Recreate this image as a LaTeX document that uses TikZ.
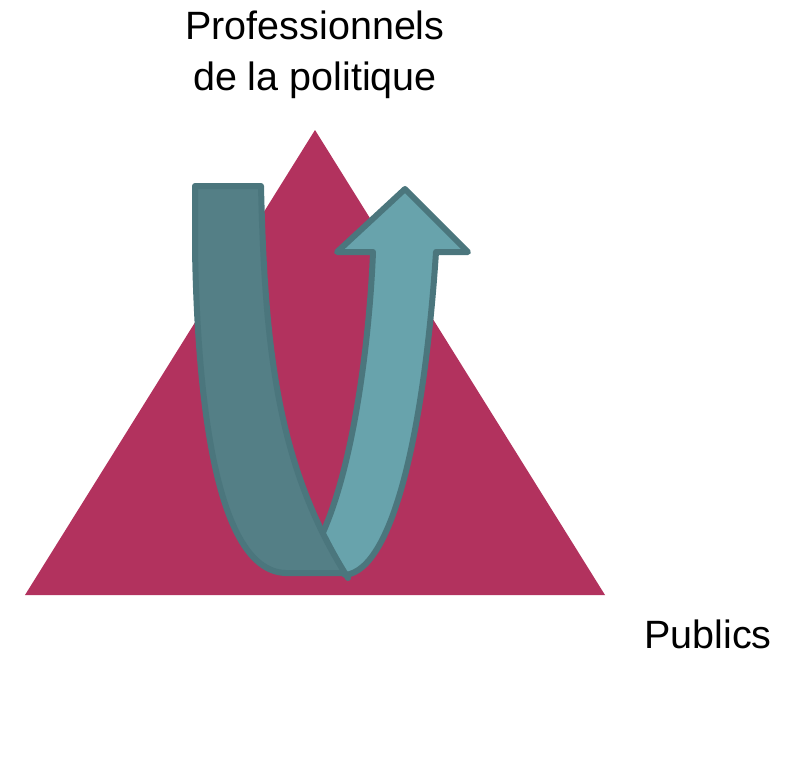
\documentclass[tikz,border=0pt]{standalone}
\usepackage{fontspec}
\setmainfont{Liberation Sans}
\definecolor{tri}{RGB}{178,50,94}
\definecolor{bandA}{RGB}{84,127,134}
\definecolor{bandB}{RGB}{104,163,172}
\definecolor{bandline}{RGB}{75,118,125}
\begin{document}
\begin{tikzpicture}[x=1pt,y=-1pt,
  band/.style={draw=bandline,line width=6pt,line join=round},
  lbl/.style={font=\fontsize{39.5}{47}\selectfont,inner sep=0pt,anchor=base}]
\useasboundingbox (0,0) rectangle (803,768);
% triangle
\fill[tri] (25,595) -- (315,130) -- (605,595) -- cycle;
% right band with arrow head
\draw[band,fill=bandB] (373,252) .. controls (370,330) and (355,470) .. (318,543)
  -- (345,575) .. controls (395,570) and (425,420) .. (436,252)
  -- (468,252) -- (405,189) -- (337,252) -- cycle;
% left band
\draw[band,fill=bandA] (195,186) -- (261,186)
  .. controls (265,360) and (280,470) .. (348,578)
  -- (345,573) -- (285,573)
  .. controls (220,570) and (198,420) .. (195,250) -- cycle;
% labels
\node[lbl] (pro) at (315,40) {Professionnels};
\node[lbl] (pol) at (315,90) {de la politique};
\node[lbl] (pub) at (708,648) {Publics};
\end{tikzpicture}
\end{document}
